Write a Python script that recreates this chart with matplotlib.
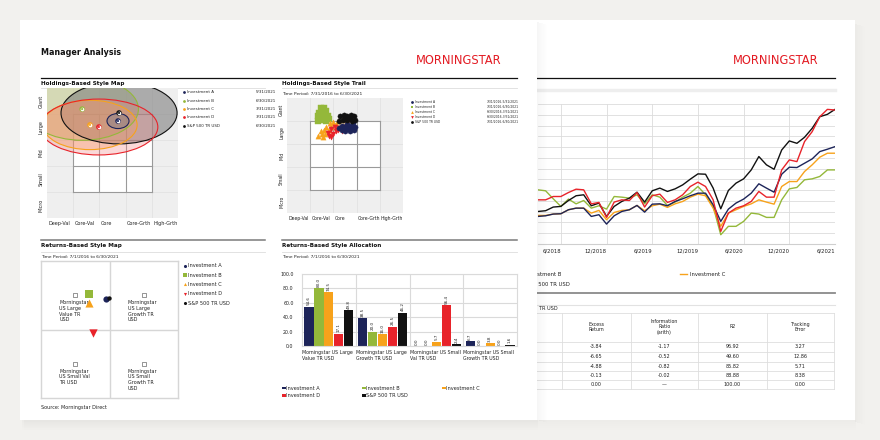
import matplotlib
matplotlib.use('Agg')
import matplotlib.pyplot as plt
from matplotlib.patches import Rectangle, Ellipse
from matplotlib import font_manager
from matplotlib.font_manager import FontProperties
import pandas as pd

# ---------------- data ----------------
investments = ['Investment A', 'Investment B', 'Investment C', 'Investment D', 'S&P 500 TR USD']
inv_colors = ['#1d2459', '#94b83a', '#f7a21b', '#e8232a', '#111111']

# holdings-based style map (style box units, 0-5)
hb_dates = ['5/31/2021', '6/30/2021', '3/31/2021', '3/31/2021', '6/30/2021']
hb_x = [2.71, 1.34, 1.64, 1.98, 2.75]
hb_y = [3.73, 4.19, 3.58, 3.50, 4.04]
hb_w = [0.84, 4.3, 3.6, 4.5, 4.43]
hb_h = [0.58, 2.4, 1.9, 2.15, 2.38]
hb_fill = ['#7c7c8c', '#c5cb8f', '#f9a650', '#f08080', '#7f7f7f']
hb_alpha = [0.45, 0.6, 0.35, 0.3, 0.6]

style_cols = ['Deep-Val', 'Core-Val', 'Core', 'Core-Grth', 'High-Grth']
style_rows = ['Micro', 'Small', 'Mid', 'Large', 'Giant']

# holdings-based style trail
trail_periods = ['7/31/2016-5/31/2021', '7/31/2016-6/30/2021', '6/30/2016-3/31/2021',
                 '6/30/2016-3/31/2021', '7/31/2016-6/30/2021']
trail_a_x = [2.35, 2.5, 2.65, 2.8, 2.95, 2.9, 2.7, 2.5, 2.35, 2.25, 2.6, 2.85, 2.75, 2.45]
trail_a_y = [3.8, 3.75, 3.7, 3.7, 3.75, 3.6, 3.55, 3.55, 3.6, 3.7, 3.85, 3.9, 3.8, 3.65]
trail_b_x = [1.45, 1.6, 1.7, 1.55, 1.4, 1.35, 1.5, 1.65, 1.75, 1.8, 1.6, 1.45, 1.35, 1.7]
trail_b_y = [4.55, 4.55, 4.45, 4.4, 4.35, 4.2, 4.25, 4.3, 4.2, 4.1, 4.1, 4.05, 4.0, 4.0]
trail_c_x = [1.35, 1.5, 1.6, 1.45, 1.7, 1.85, 2.0, 2.2, 2.35, 1.9, 1.65, 1.55, 2.1, 1.8]
trail_c_y = [3.35, 3.45, 3.6, 3.55, 3.75, 3.9, 3.95, 4.0, 4.05, 3.75, 3.45, 3.3, 3.85, 3.6]
trail_d_x = [1.9, 2.0, 2.1, 2.2, 2.3, 2.45, 2.6, 2.7, 2.5, 1.75, 1.9, 2.05, 2.35, 1.8]
trail_d_y = [3.3, 3.45, 3.55, 3.6, 3.7, 3.75, 3.9, 4.1, 4.15, 3.5, 3.65, 3.75, 3.55, 3.35]
trail_s_x = [2.3, 2.45, 2.6, 2.75, 2.9, 2.95, 2.8, 2.6, 2.4, 2.25, 2.5, 2.7]
trail_s_y = [4.2, 4.25, 4.22, 4.28, 4.2, 4.05, 4.0, 4.05, 4.05, 4.0, 4.15, 4.12]

# returns-based style map (-1..1 each axis)
rb_x = [-0.05, -0.30, -0.30, -0.24, -0.01]
rb_y = [0.45, 0.52, 0.39, -0.05, 0.46]
rb_markers = ['o', 's', '^', 'v', 'o']
rb_sizes = [20, 34, 34, 36, 10]
quad_x = [-0.5, 0.5, -0.5, 0.5]
quad_y = [0.5, 0.5, -0.5, -0.5]
quad_labels = ['Morningstar\nUS Large\nValue TR\nUSD', 'Morningstar\nUS Large\nGrowth TR\nUSD',
               'Morningstar\nUS Small Val\nTR USD', 'Morningstar\nUS Small\nGrowth TR\nUSD']

# returns-based style allocation
alloc_groups = ['Morningstar US Large\nValue TR USD', 'Morningstar US Large\nGrowth TR USD',
                'Morningstar US Small\nVal TR USD', 'Morningstar US Small\nGrowth TR USD']
alloc_a = [54.6, 38.5, 0.0, 6.7]
alloc_b = [80.0, 20.0, 0.0, 0.0]
alloc_c = [74.5, 16.0, 5.7, 3.8]
alloc_d = [17.1, 26.5, 56.4, 0.0]
alloc_s = [49.8, 46.2, 2.4, 1.6]

# growth chart on the back page (3/2018 - 6/2021)
months = pd.date_range('2018-03-31', '2021-06-30', freq='ME')
growth_s = [3.02, 3.09, 3.43, 3.49, 4.04, 4.48, 4.57, 3.55, 3.80, 2.56, 3.49, 3.95, 4.26, 4.81, 3.89,
            4.94, 5.19, 4.88, 5.12, 5.49, 6.02, 6.51, 6.48, 5.19, 3.27, 4.97, 5.65, 6.05, 6.88, 8.12,
            7.35, 6.94, 8.73, 9.57, 9.35, 9.91, 10.74, 11.82, 12.04, 12.50]
growth_d = [4.10, 4.10, 4.41, 4.41, 4.78, 5.09, 5.03, 3.73, 3.86, 2.47, 3.89, 4.10, 4.04, 4.78, 3.43,
            4.48, 4.63, 3.86, 4.10, 4.57, 5.34, 5.74, 5.34, 4.10, 1.17, 2.87, 3.33, 3.55, 3.95, 4.88,
            4.35, 4.35, 6.88, 7.81, 7.65, 9.51, 10.43, 11.82, 12.50, 12.44]
growth_a = [2.56, 2.62, 2.78, 2.81, 3.18, 3.33, 3.33, 2.56, 2.72, 1.85, 2.62, 3.02, 3.18, 3.58, 2.96,
            3.70, 3.73, 3.55, 3.95, 4.20, 4.48, 4.72, 4.72, 3.64, 2.10, 3.24, 3.80, 4.17, 4.72, 5.59,
            5.19, 4.81, 6.48, 7.13, 7.10, 7.50, 7.90, 8.58, 8.80, 9.04]
growth_c = [2.65, 2.65, 2.78, 2.81, 3.18, 3.33, 3.33, 2.87, 3.12, 2.25, 2.93, 3.12, 3.18, 3.58, 3.09,
            3.55, 3.70, 3.40, 3.73, 3.95, 4.35, 4.63, 4.48, 3.33, 1.64, 2.87, 3.18, 3.49, 3.73, 4.10,
            3.89, 3.70, 5.34, 5.80, 5.80, 6.73, 7.35, 8.06, 8.43, 8.43]
growth_b = [5.03, 4.94, 4.20, 3.49, 4.17, 3.73, 4.04, 3.33, 3.55, 3.24, 4.41, 4.35, 4.26, 4.57, 3.73,
            4.57, 4.35, 3.58, 3.89, 4.35, 4.72, 5.34, 4.57, 3.49, 0.86, 1.64, 1.64, 2.10, 2.87, 2.78,
            2.47, 2.47, 4.10, 5.12, 5.25, 5.96, 6.05, 6.27, 6.88, 6.88]
growth_ticks = [3, 9, 15, 21, 27, 33, 39]

# risk table vs S&P 500
risk_headers = ['Excess\nReturn', 'Information\nRatio\n(arith)', 'R2', 'Tracking\nError']
risk_excess = ['-3.84', '-6.65', '-4.88', '-0.13', '0.00']
risk_info = ['-1.17', '-0.52', '-0.82', '-0.02', '\u2014']
risk_r2 = ['96.92', '49.60', '85.82', '88.88', '100.00']
risk_te = ['3.27', '12.86', '5.71', '8.38', '0.00']

# ---------------- fonts ----------------
plt.rcParams['font.family'] = ['DejaVu Sans']
condensed = [f for f in font_manager.fontManager.ttflist
             if f.style == 'normal' and ('Narrow' in f.name or 'Condensed' in f.name or
                                         str(f.stretch) in ('condensed', 'semi-condensed', 'extra-condensed'))]
cond_reg = [f for f in condensed if f.weight in (400, 'normal', 'regular', 'book')]
cond_bold = [f for f in condensed if f.weight in (700, 'bold')]
if cond_reg:
    logo_font = FontProperties(fname=cond_reg[0].fname, size=9.2)
else:
    logo_font = FontProperties(family='DejaVu Sans', size=7.6)
if cond_bold:
    head_font = FontProperties(fname=cond_bold[0].fname, size=6.4)
else:
    head_font = FontProperties(family='DejaVu Sans', weight='bold', size=5.2)

TXT = '#222222'
RED_LOGO = '#e31b23'

fig = plt.figure(figsize=(8.8, 4.4), dpi=100)
fig.patch.set_facecolor('#f2f1ee')


def px_axes(x0, y0, x1, y1, z=0):
    return fig.add_axes([x0 / 880, 1 - y1 / 440, (x1 - x0) / 880, (y1 - y0) / 440], zorder=z)


def layer(z):
    a = px_axes(0, 0, 880, 440, z)
    a.set_xlim(0, 880)
    a.set_ylim(440, 0)
    a.axis('off')
    return a


def logo(a, xc):
    a.text(xc, 60.5, 'MORNINGSTAR', ha='center', va='center', color=RED_LOGO, fontproperties=logo_font)


# ---------------- back page ----------------
back = layer(-5)
for k in range(10):
    back.add_patch(Rectangle((855 + k, 24 + k * 0.3), 1, 398, color='black', alpha=0.025 * (10 - k) / 10, lw=0))
    back.add_patch(Rectangle((24, 420 + k), 832, 1, color='black', alpha=0.02 * (10 - k) / 10, lw=0))
back.add_patch(Rectangle((20, 20), 835, 400, facecolor='white', edgecolor='none'))
logo(back, 776)
back.plot([500, 835], [78.5, 78.5], color='#111111', lw=0.9)
back.plot([500, 835], [90, 90], color='#eeeeee', lw=2.5)

# back page legend (partly hidden by the front page)
back.plot([516, 523], [274.5, 274.5], color=inv_colors[1], lw=1)
back.text(526, 274.5, investments[1], fontsize=3.8, va='center', color=TXT)
back.plot([680, 687], [274.5, 274.5], color=inv_colors[2], lw=1)
back.text(690, 274.5, investments[2], fontsize=3.8, va='center', color=TXT)
back.plot([516, 523], [284.5, 284.5], color=inv_colors[4], lw=1)
back.text(526, 284.5, investments[4], fontsize=3.8, va='center', color=TXT)

# risk table
back.plot([500, 835], [293, 293], color='#8a8a8a', lw=1.3)
back.plot([500, 835], [305, 305], color='#e2e2e2', lw=0.8)
back.text(558, 309, 'Risk vs. S&P 500 TR USD', fontsize=3.6, ha='right', va='center', color=TXT)
col_edges = [480, 562, 631, 698, 767, 834]
row_edges = [313, 341.7, 352, 362, 371, 380, 389]
for y in row_edges:
    back.plot([col_edges[0], col_edges[-1]], [y, y], color='#dedede', lw=0.6)
for x in col_edges[1:]:
    back.plot([x, x], [row_edges[0], row_edges[-1]], color='#dedede', lw=0.6)
for j, h in enumerate(risk_headers):
    back.text((col_edges[j + 1] + col_edges[j + 2]) / 2, 327, h, fontsize=3.4, ha='center',
              va='center', color=TXT, linespacing=1.15)
for j, col in enumerate([risk_excess, risk_info, risk_r2, risk_te]):
    for i, v in enumerate(col):
        yc = (row_edges[i + 1] + row_edges[i + 2]) / 2
        back.text((col_edges[j + 1] + col_edges[j + 2]) / 2, yc, v, fontsize=3.5, ha='center',
                  va='center', color=TXT)

# growth chart
lc = px_axes(538, 104, 835, 244, -4)
lc.set_facecolor('white')
mi = list(range(len(months)))
for vals, c in [(growth_b, inv_colors[1]), (growth_c, inv_colors[2]), (growth_a, inv_colors[0]),
                (growth_s, inv_colors[4]), (growth_d, inv_colors[3])]:
    lc.plot(mi, vals, color=c, lw=1.0)
lc.set_xlim(0, 39)
lc.set_ylim(0, 13)
lc.set_yticks(range(14))
lc.set_yticklabels([])
lc.set_xticks(growth_ticks)
lc.set_xticklabels([f'{months[i].month}/{months[i].year}' for i in growth_ticks], ha='right')
lc.tick_params(length=0, labelsize=3.8, pad=3, colors=TXT)
lc.grid(True, color='#dcdcdc', lw=0.6)
lc.set_axisbelow(True)
for s in lc.spines.values():
    s.set_visible(False)
lc.spines['bottom'].set_visible(True)
lc.spines['bottom'].set_color('#cfcfcf')

# ---------------- front page ----------------
front = layer(-1)
for k in range(10):
    front.add_patch(Rectangle((537 + k, 22 + k * 0.3), 1, 398, color='black', alpha=0.035 * (10 - k) / 10, lw=0))
    front.add_patch(Rectangle((22, 420 + k), 516, 1, color='black', alpha=0.025 * (10 - k) / 10, lw=0))
front.add_patch(Rectangle((20, 20), 517, 400, facecolor='white', edgecolor='none'))
front.text(41, 52.5, 'Manager Analysis', fontproperties=head_font, va='center', color='#111111')
logo(front, 458.5)
front.plot([41, 517], [78.5, 78.5], color='#111111', lw=0.9)
for x0, x1 in [(41, 265), (282, 517)]:
    front.plot([x0, x1], [88.5, 88.5], color='#dddddd', lw=0.6)
    front.plot([x0, x1], [240.5, 240.5], color='#7a7a7a', lw=1.1)
    front.plot([x0, x1], [252, 252], color='#dddddd', lw=0.6)
TITLE = dict(fontsize=4.1, fontweight='bold', va='center', color='#111111')
SMALL = dict(fontsize=3.2, va='center', color=TXT)
front.text(41, 83.5, 'Holdings-Based Style Map', **TITLE)
front.text(282, 83.5, 'Holdings-Based Style Trail', **TITLE)
front.text(41, 246, 'Returns-Based Style Map', **TITLE)
front.text(282, 246, 'Returns-Based Style Allocation', **TITLE)
front.text(282, 94, 'Time Period: 7/31/2016 to 6/30/2021', **SMALL)
front.text(41, 256.5, 'Time Period: 7/1/2016 to 6/30/2021', **SMALL)
front.text(282, 256.5, 'Time Period: 7/1/2016 to 6/30/2021', **SMALL)
front.text(41, 407, 'Source: Morningstar Direct', fontsize=3.5, va='center', color=TXT)

# legends on the front page
trail_markers = ['o', 's', '^', 'v', 'o']
for i, name in enumerate(investments):
    y1 = 92.3 + i * 8.35
    front.scatter([183.5], [y1], s=4, color=inv_colors[i], lw=0)
    front.text(187, y1, name, fontsize=2.9, va='center', color=TXT)
    front.text(276, y1, hb_dates[i], fontsize=2.9, va='center', ha='right', color=TXT)
    y2 = 102.3 + i * 5.0
    front.scatter([411.5], [y2], s=4, marker=trail_markers[i], color=inv_colors[i], lw=0)
    front.text(415, y2, name, fontsize=2.2, va='center', color=TXT)
    front.text(519, y2, trail_periods[i], fontsize=2.2, va='center', ha='right', color=TXT)
    y3 = 265.7 + i * 9.4
    front.scatter([184.5], [y3], s=5, marker=rb_markers[i], color=inv_colors[i], lw=0)
    front.text(188, y3, name, fontsize=3.6, va='center', color=TXT)
bar_leg_x = [282, 362, 442, 282, 362]
bar_leg_y = [388, 388, 388, 395.3, 395.3]
for i, name in enumerate(investments):
    front.add_patch(Rectangle((bar_leg_x[i] - 0.5, bar_leg_y[i] - 1.4), 4, 2.8, color=inv_colors[i], lw=0))
    front.text(bar_leg_x[i] + 4.5, bar_leg_y[i], name, fontsize=3.6, va='center', color=TXT)


def style_box(a, lab_size):
    a.set_xlim(0, 5)
    a.set_ylim(0, 5)
    a.set_facecolor('#efefef')
    a.add_patch(Rectangle((1, 1), 3, 3, facecolor='white', edgecolor='none', zorder=0.2))
    for v in range(1, 5):
        a.plot([v, v], [0, 5], color='#e2e2e2', lw=0.6, zorder=0.1)
        a.plot([0, 5], [v, v], color='#e2e2e2', lw=0.6, zorder=0.1)
        a.plot([v, v], [1, 4], color='#9a9a9a', lw=0.8, zorder=0.3)
        a.plot([1, 4], [v, v], color='#9a9a9a', lw=0.8, zorder=0.3)
    for s in a.spines.values():
        s.set_visible(False)
    a.set_xticks([])
    a.set_yticks([])
    for i, lab in enumerate(style_cols):
        a.text(i + 0.05, -0.12, lab, ha='left', va='top', fontsize=lab_size, color=TXT, clip_on=False)
    for i, lab in enumerate(style_rows):
        a.text(-0.12, i + 0.5, lab, ha='right', va='center', rotation=90, fontsize=lab_size,
               color=TXT, clip_on=False)


# holdings-based style map
hm = px_axes(47, 88, 178, 218, 0)
style_box(hm, 3.5)
for i in [1, 4, 2, 3, 0]:
    hm.add_patch(Ellipse((hb_x[i], hb_y[i]), hb_w[i], hb_h[i], facecolor=hb_fill[i], alpha=hb_alpha[i],
                         edgecolor='none', zorder=1))
    hm.add_patch(Ellipse((hb_x[i], hb_y[i]), hb_w[i], hb_h[i], facecolor='none',
                         edgecolor=inv_colors[i], lw=0.8, zorder=1.5))
hm.scatter(hb_x, hb_y, s=16, color=inv_colors, lw=0, zorder=3)
hm.scatter(hb_x, hb_y, s=7, color='white', lw=0, zorder=3.1)
hm.scatter(hb_x, hb_y, s=2.2, color=inv_colors, lw=0, zorder=3.2)

# holdings-based style trail
ht = px_axes(287, 98, 403, 213, 0)
style_box(ht, 3.3)
for tx, ty, i in [(trail_b_x, trail_b_y, 1), (trail_c_x, trail_c_y, 2), (trail_d_x, trail_d_y, 3),
                  (trail_a_x, trail_a_y, 0), (trail_s_x, trail_s_y, 4)]:
    ht.scatter(tx, ty, s=14, marker=trail_markers[i], color=inv_colors[i], lw=0.3,
               edgecolor=inv_colors[i], zorder=3)

# returns-based style map
rm = px_axes(41, 261, 178, 398, 0)
rm.set_xlim(-1, 1)
rm.set_ylim(-1, 1)
rm.set_xticks([])
rm.set_yticks([])
for s in rm.spines.values():
    s.set_color('#d6d6d6')
    s.set_linewidth(1.0)
rm.axvline(0, color='#d6d6d6', lw=1.0)
rm.axhline(0, color='#d6d6d6', lw=1.0)
rm.scatter(quad_x, quad_y, s=5, marker='s', facecolor='white', edgecolor='#444444', lw=0.4, zorder=2)
for qx, qy, lab in zip(quad_x, quad_y, quad_labels):
    rm.text(qx - 0.23, qy - 0.07, lab, ha='left', va='top', fontsize=3.5, color=TXT, linespacing=1.2)
for i in [1, 2, 0, 4, 3]:
    rm.scatter([rb_x[i]], [rb_y[i]], s=rb_sizes[i], marker=rb_markers[i], color=inv_colors[i],
               lw=0, zorder=4)

# returns-based style allocation
ba = px_axes(302, 274, 517, 346, 0)
offsets = [-0.37, -0.185, 0.0, 0.185, 0.37]
for k, vals in enumerate([alloc_a, alloc_b, alloc_c, alloc_d, alloc_s]):
    xs = [g + offsets[k] for g in range(len(alloc_groups))]
    ba.bar(xs, vals, width=0.17, color=inv_colors[k], lw=0, zorder=2)
    for x, v in zip(xs, vals):
        ba.text(x, v + 2, f'{v:.1f}', rotation=90, ha='center', va='bottom', fontsize=3.0, color=TXT)
ba.set_xlim(-0.5, 3.5)
ba.set_ylim(0, 100)
ba.set_yticks(range(0, 101, 20))
ba.set_yticklabels([f'{v:.1f}' for v in range(0, 101, 20)])
ba.set_xticks([0.5, 1.5, 2.5])
ba.set_xticklabels([])
ba.tick_params(length=0, labelsize=3.4, pad=6, colors=TXT)
ba.grid(True, color='#dadada', lw=0.8)
ba.set_axisbelow(True)
for s in ba.spines.values():
    s.set_color('#dadada')
    s.set_linewidth(0.8)
for g, lab in enumerate(alloc_groups):
    ba.text(g - 0.5, -6, lab, ha='left', va='top', fontsize=3.4, color=TXT, linespacing=1.25, clip_on=False)

fig.savefig('out.png', dpi=100, facecolor=fig.get_facecolor())
